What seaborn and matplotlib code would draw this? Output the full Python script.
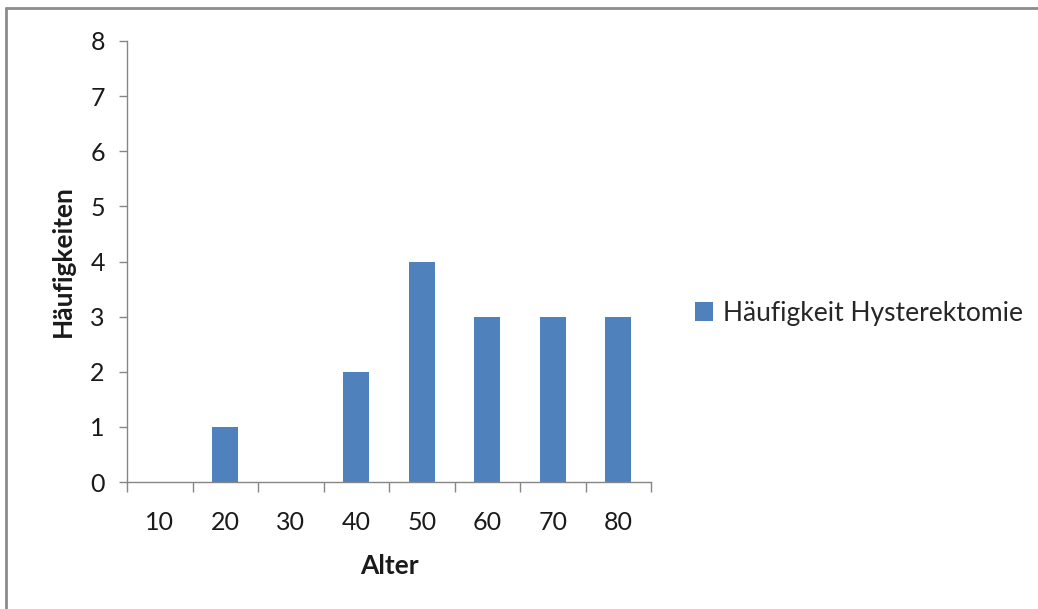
import matplotlib
matplotlib.use("Agg")
import matplotlib.pyplot as plt
from matplotlib.patches import Patch
from matplotlib.lines import Line2D
import seaborn as sns
import pandas as pd

# Age groups and counts
alter = ["10", "20", "30", "40", "50", "60", "70", "80"]
haeufigkeit = [0, 1, 0, 2, 4, 3, 3, 3]
serie = "Häufigkeit Hysterektomie"
y_ticks = [0, 1, 2, 3, 4, 5, 6, 7, 8]

df = pd.DataFrame({"Alter": alter, "Häufigkeiten": haeufigkeit})

sns.set_style("white")
plt.rcParams["font.family"] = ["Lato", "DejaVu Sans"]

bar_color = "#4F81BD"
axis_color = "#868686"
text_color = "#1a1a1a"

fig = plt.figure(figsize=(10.38, 6.09), dpi=100)
ax = fig.add_axes([127 / 1038, 1 - 482 / 609, (651 - 127) / 1038, (482 - 41) / 609])

sns.barplot(data=df, x="Alter", y="Häufigkeiten", color=bar_color,
            width=0.4, saturation=1, ax=ax, linewidth=0)

ax.set_xlim(-0.5, len(alter) - 0.5)
ax.set_ylim(0, 8)
ax.set_yticks(y_ticks)
ax.set_yticklabels([str(v) for v in y_ticks], fontsize=18, color=text_color)
ax.tick_params(axis="y", left=True, length=6, width=1, color=axis_color,
               direction="out", pad=10)

# category ticks sit between bars, labels centred under bars
ax.set_xticks([i - 0.5 for i in range(len(alter) + 1)], minor=False)
ax.set_xticklabels([""] * (len(alter) + 1))
ax.tick_params(axis="x", which="major", bottom=True, length=7, width=1,
               color=axis_color, direction="out")
ax.set_xticks(range(len(alter)), minor=True)
ax.set_xticklabels(alter, minor=True, fontsize=18, color=text_color)
ax.tick_params(axis="x", which="minor", bottom=True, length=0, pad=21)

for side in ["top", "right"]:
    ax.spines[side].set_visible(False)
for side in ["left", "bottom"]:
    ax.spines[side].set_color(axis_color)
    ax.spines[side].set_linewidth(1)

ax.set_xlabel("Alter", fontsize=19, fontweight="bold", labelpad=14, color=text_color)
ax.set_ylabel("Häufigkeiten", fontsize=19, fontweight="bold", labelpad=11, color=text_color)

fig.legend(handles=[Patch(facecolor=bar_color, edgecolor="none", label=serie)],
           loc="center left", bbox_to_anchor=(695 / 1038, 1 - 313 / 609),
           frameon=False, fontsize=19, handlelength=0.7, handleheight=0.7,
           handletextpad=0.35, borderaxespad=0, borderpad=0)

# chart area border: only its left and top edges fall inside the canvas
x0 = 6 / 1038
y0 = 1 - 8 / 609
fig.add_artist(Line2D([x0, 1.0], [y0, y0], transform=fig.transFigure,
                      color="#8c8c8c", linewidth=2))
fig.add_artist(Line2D([x0, x0], [0.0, y0], transform=fig.transFigure,
                      color="#8c8c8c", linewidth=2))

fig.savefig("out.png", dpi=100)
